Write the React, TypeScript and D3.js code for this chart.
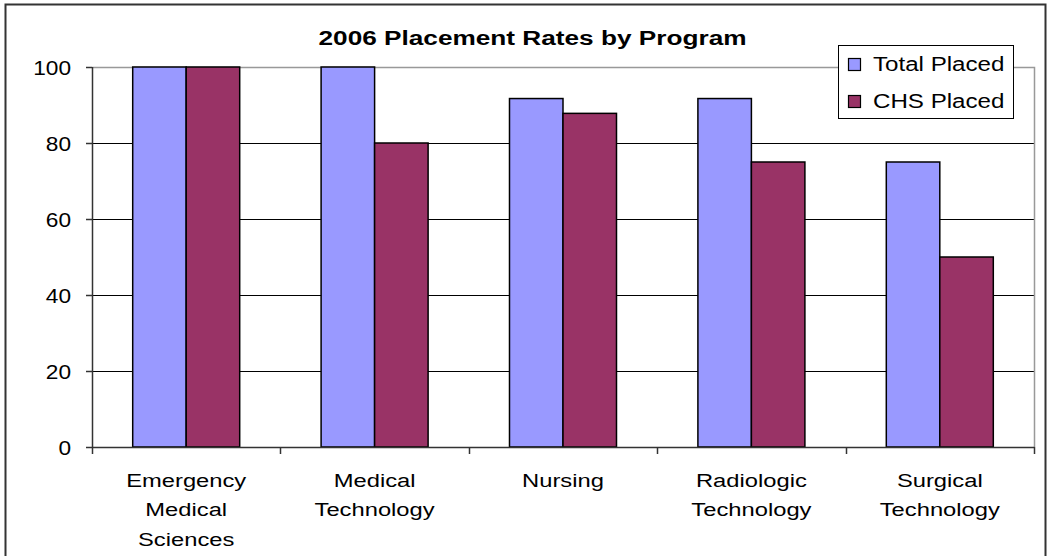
import React, { useRef, useEffect } from 'react'
import * as d3 from 'd3'

// chart data
const programs = ['Emergency Medical Sciences', 'Medical Technology', 'Nursing', 'Radiologic Technology', 'Surgical Technology']
const programLines = [['Emergency', 'Medical', 'Sciences'], ['Medical', 'Technology'], ['Nursing'], ['Radiologic', 'Technology'], ['Surgical', 'Technology']]
const seriesNames = ['Total Placed', 'CHS Placed']
const totalPlaced = [100, 100, 91.7, 91.7, 75]
const chsPlaced = [100, 80, 87.8, 75, 50]
const yTicks = [0, 20, 40, 60, 80, 100]
const colors = ['#9999FF', '#993366']

const W = 1047
const H = 556
const FONT = "'Liberation Sans', Arial, sans-serif"

const App = () => {
  const svgRef = useRef<SVGSVGElement>(null)

  useEffect(() => {
    const svg = d3.select(svgRef.current)
    svg.selectAll('*').remove()

    // plot area
    const left = 92, right = 1034, top = 67, bottom = 447

    const x0 = d3.scaleBand().domain(programs).range([left, right])
    const groupPad = 40.7
    const x1 = d3.scaleBand().domain(seriesNames).range([groupPad, x0.bandwidth() - groupPad])
    const y = d3.scaleLinear().domain([0, 100]).range([bottom, top])

    // outer frame
    svg.append('rect')
      .attr('x', 5.5).attr('y', 4.5)
      .attr('width', 1040).attr('height', 570)
      .attr('fill', 'white')
      .attr('stroke', '#333').attr('stroke-width', 2)

    // gridlines
    svg.append('g')
      .selectAll('line')
      .data(yTicks.filter(t => t > 0 && t < 100))
      .join('line')
        .attr('x1', left).attr('x2', right)
        .attr('y1', d => Math.round(y(d)) + 0.5).attr('y2', d => Math.round(y(d)) + 0.5)
        .attr('stroke', '#000').attr('stroke-width', 1)

    // plot border (top + right)
    svg.append('path')
      .attr('d', `M${left},${top + 0.5}H${right + 0.5}V${bottom}`)
      .attr('fill', 'none').attr('stroke', '#999').attr('stroke-width', 1.5)

    // bars
    const series = [totalPlaced, chsPlaced]
    svg.append('g')
      .selectAll('g')
      .data(programs)
      .join('g')
        .attr('transform', d => `translate(${x0(d)},0)`)
      .selectAll('rect')
      .data((_, i) => seriesNames.map((s, j) => ({ s, v: series[j][i], c: colors[j] })))
      .join('rect')
        .attr('x', d => x1(d.s)!)
        .attr('width', x1.bandwidth())
        .attr('y', d => y(d.v))
        .attr('height', d => y(0) - y(d.v))
        .attr('fill', d => d.c)
        .attr('stroke', '#000').attr('stroke-width', 1.5)

    // y axis
    const ya = svg.append('g')
    ya.append('line')
      .attr('x1', left + 0.5).attr('x2', left + 0.5)
      .attr('y1', top).attr('y2', bottom)
      .attr('stroke', '#333').attr('stroke-width', 1.5)
    ya.selectAll('line.tick')
      .data(yTicks)
      .join('line')
        .attr('class', 'tick')
        .attr('x1', left - 6).attr('x2', left)
        .attr('y1', d => Math.round(y(d)) + 0.5).attr('y2', d => Math.round(y(d)) + 0.5)
        .attr('stroke', '#333').attr('stroke-width', 1.5)
    ya.selectAll('text')
      .data(yTicks)
      .join('text')
        .attr('transform', d => `translate(71,${y(d) + 7.5}) scale(1.08,1)`)
        .attr('text-anchor', 'end')
        .style('font-family', FONT).style('font-size', '21px')
        .text(d => d)

    // x axis
    const xa = svg.append('g')
    xa.append('line')
      .attr('x1', left).attr('x2', right + 0.5)
      .attr('y1', bottom + 0.5).attr('y2', bottom + 0.5)
      .attr('stroke', '#333').attr('stroke-width', 1.5)
    xa.selectAll('line.tick')
      .data([...programs.map(p => x0(p)!), right])
      .join('line')
        .attr('class', 'tick')
        .attr('x1', d => Math.round(d) + 0.5).attr('x2', d => Math.round(d) + 0.5)
        .attr('y1', bottom).attr('y2', bottom + 7)
        .attr('stroke', '#333').attr('stroke-width', 1.5)
    const labels = xa.selectAll('g.lbl')
      .data(programs)
      .join('g')
        .attr('class', 'lbl')
        .attr('transform', d => `translate(${x0(d)! + x0.bandwidth() / 2},0)`)
    labels.selectAll('text')
      .data((_, i) => programLines[i])
      .join('text')
        .attr('transform', (_, k) => `translate(0,${487 + k * 29.3}) scale(1.32,1)`)
        .attr('text-anchor', 'middle')
        .style('font-family', FONT).style('font-size', '18px')
        .text(d => d)

    // title
    svg.append('text')
      .attr('transform', 'translate(532.5,45) scale(1.31,1)')
      .attr('text-anchor', 'middle')
      .style('font-family', FONT).style('font-size', '20px').style('font-weight', 'bold')
      .text('2006 Placement Rates by Program')

    // legend
    const lg = svg.append('g')
    lg.append('rect')
      .attr('x', 838.5).attr('y', 45.5).attr('width', 175).attr('height', 73)
      .attr('fill', 'white').attr('stroke', '#000').attr('stroke-width', 1)
    const items = lg.selectAll('g.item')
      .data(seriesNames)
      .join('g')
        .attr('class', 'item')
        .attr('transform', (_, i) => `translate(848,${58 + i * 37})`)
    items.append('rect')
      .attr('x', 0.5).attr('y', 0.5).attr('width', 12).attr('height', 12)
      .attr('fill', (_, i) => colors[i]).attr('stroke', '#000').attr('stroke-width', 1.2)
    items.append('text')
      .attr('transform', 'translate(25,13) scale(1.15,1)')
      .style('font-family', FONT).style('font-size', '21px')
      .text(d => d)
  }, [])

  return (
    <div className='App'>
      <svg ref={svgRef} width={W} height={H} style={{ position: 'absolute', left: 0, top: 0, background: 'white' }}></svg>
    </div>
  )
}

export default App
